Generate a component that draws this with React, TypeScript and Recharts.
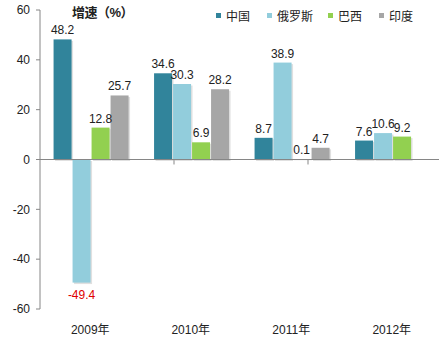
import React from 'react';
import { BarChart, Bar, XAxis, YAxis, ReferenceLine, LabelList } from 'recharts';

const categories = ['2009年', '2010年', '2011年', '2012年'];
const china = [48.2, 34.6, 8.7, 7.6];
const russia = [-49.4, 30.3, 38.9, 10.6];
const brazil = [12.8, 6.9, 0.1, 9.2];
const india = [25.7, 28.2, 4.7, null];
const seriesNames = ['中国', '俄罗斯', '巴西', '印度'];
const seriesKeys = ['china', 'russia', 'brazil', 'india'];
const colors = ['#31849B', '#92CDDC', '#92D050', '#A6A6A6'];
const yTicks = [-60, -40, -20, 0, 20, 40, 60];
const boundaries = [1, 2, 3];

const data = categories.map((name, i) => ({
    name,
    china: china[i],
    russia: russia[i],
    brazil: brazil[i],
    india: india[i],
}));

const font = '"Liberation Sans", Arial, "Noto Sans CJK SC", sans-serif';

const renderLabel = (props: any) => {
    const { x, y, width, height, value } = props;
    if (value === null || value === undefined) return null;
    const top = Math.min(y, y + height);
    const bottom = Math.max(y, y + height);
    const neg = value < 0;
    return (
        <text
            x={x + width / 2}
            y={neg ? bottom + 16 : top - 5}
            textAnchor="middle"
            fontSize={12}
            fontFamily={font}
            fill={neg ? '#E00000' : '#222'}
        >
            {value}
        </text>
    );
};

const ShadowBar = (props: any) => {
    const { x, y, width, height, fill } = props;
    if (!height) return null;
    const top = Math.min(y, y + height);
    const h = Math.abs(height);
    return (
        <g>
            <rect x={x + 1.5} y={top + 1.5} width={width} height={h} fill="rgba(0,0,0,0.12)" />
            <rect x={x} y={top} width={width} height={h} fill={fill} />
        </g>
    );
};

export default function App() {
    return (
        <div style={{ position: 'absolute', left: 0, top: 0, width: 439, height: 347, overflow: 'hidden', background: '#fff' }}>
            <BarChart
                width={442}
                height={347}
                data={data}
                margin={{ top: 10, right: 0, left: 0, bottom: 8 }}
                barCategoryGap="13.5%"
                barGap={1}
            >
                <XAxis
                    dataKey="name"
                    axisLine={false}
                    tickLine={false}
                    height={30}
                    tickMargin={10}
                    tick={{ fontSize: 12, fill: '#222', fontFamily: font }}
                />
                <XAxis xAxisId="num" type="number" domain={[0, 4]} hide />
                <YAxis
                    domain={[-60, 60]}
                    ticks={yTicks}
                    width={40}
                    tickSize={4}
                    tickMargin={6}
                    stroke="#868686"
                    tick={{ fontSize: 12, fill: '#222', fontFamily: font }}
                    interval={0}
                />
                {seriesKeys.map((k, i) => (
                    <Bar
                        key={k}
                        dataKey={k}
                        name={seriesNames[i]}
                        fill={colors[i]}
                        shape={ShadowBar}
                        isAnimationActive={false}
                    >
                        <LabelList dataKey={k} content={renderLabel} />
                    </Bar>
                ))}
                <ReferenceLine y={0} stroke="#868686" />
                {boundaries.map((b) => (
                    <ReferenceLine
                        key={b}
                        xAxisId="num"
                        stroke="#868686"
                        segment={[{ x: b, y: 0 }, { x: b, y: -2 }]}
                    />
                ))}
            </BarChart>
            <div
                style={{
                    position: 'absolute',
                    left: 72,
                    top: 2,
                    fontSize: 13,
                    fontWeight: 'bold',
                    fontFamily: font,
                    color: '#222',
                    letterSpacing: -0.5,
                }}
            >
                增速（%）
            </div>
            <div style={{ position: 'absolute', left: 0, top: 7, fontFamily: font, fontSize: 12, color: '#222' }}>
                {seriesNames.map((n, i) => (
                    <div
                        key={n}
                        style={{
                            position: 'absolute',
                            left: [216, 267, 328, 379][i],
                            top: 0,
                            display: 'flex',
                            alignItems: 'center',
                            whiteSpace: 'nowrap',
                        }}
                    >
                        <span style={{ display: 'inline-block', width: 5, height: 5, background: colors[i], marginRight: 5 }} />
                        <span>{n}</span>
                    </div>
                ))}
            </div>
        </div>
    );
}
